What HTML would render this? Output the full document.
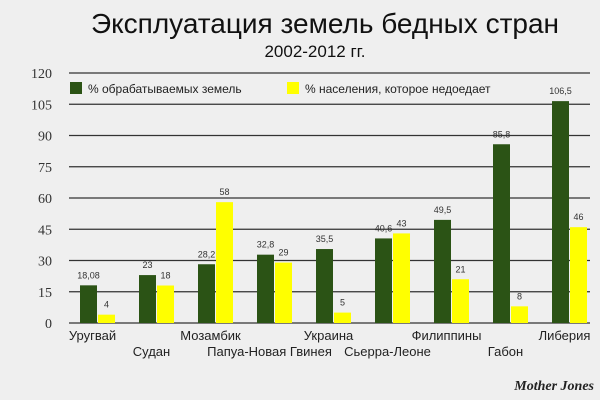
<!DOCTYPE html>
<html><head><meta charset="utf-8"><style>
body{margin:0;background:#efefef;}
svg{display:block;font-family:"Liberation Sans",sans-serif;}
</style></head><body>
<svg width="600" height="400" viewBox="0 0 600 400">
<rect width="600" height="400" fill="#efefef"/>
<text x="325" y="33" font-size="28" text-anchor="middle" fill="#111">Эксплуатация земель бедных стран</text>
<text x="315" y="57" font-size="17" text-anchor="middle" fill="#111">2002-2012 гг.</text>
<g id="grid"></g>
<g id="bars"></g>
<g id="labels"></g>
<g>
<rect x="70" y="82" width="12" height="12" fill="#2b5315"/>
<text x="88" y="93" font-size="12" fill="#222">% обрабатываемых земель</text>
<rect x="287" y="82" width="12" height="12" fill="#ffff00"/>
<text x="305" y="93" font-size="12" fill="#222">% населения, которое недоедает</text>
</g>
<text x="594" y="390" font-size="14" font-weight="bold" font-style="italic" text-anchor="end" font-family="Liberation Serif,serif" fill="#222">Mother Jones</text>
</svg>
<script>
const categories=["Уругвай","Судан","Мозамбик","Папуа-Новая Гвинея","Украина","Сьерра-Леоне","Филиппины","Габон","Либерия"];
const landValues=[18.08,23,28.2,32.8,35.5,40.6,49.5,85.8,106.5];
const hungerValues=[4,18,58,29,5,43,21,8,46];
const landLabels=["18,08","23","28,2","32,8","35,5","40,6","49,5","85,8","106,5"];
const hungerLabels=["4","18","58","29","5","43","21","8","46"];
const yTicks=[0,15,30,45,60,75,90,105,120];
const NS="http://www.w3.org/2000/svg";
const x0=69,x1=590,slot=59,bw=17,yBase=323,yTop=73,yMax=120;
const y=v=>yBase-(v/yMax)*(yBase-yTop);
const xs=i=>x0+i*slot;
function mk(tag,attrs,parent){const e=document.createElementNS(NS,tag);for(const k in attrs)e.setAttribute(k,attrs[k]);parent.appendChild(e);return e;}
const grid=document.getElementById('grid'),bars=document.getElementById('bars'),labels=document.getElementById('labels');
yTicks.forEach(t=>{
 const l=mk('line',{x1:x0,x2:x1,y1:y(t),y2:y(t),stroke:'#333','stroke-width':1.2},grid);
 
 
 const tx=mk('text',{x:52,y:y(t)+5,'font-size':14,'text-anchor':'end','font-family':'Liberation Serif,serif',fill:'#333'},grid);
 tx.textContent=t;
 
 
});
categories.forEach((c,i)=>{
 const gx=xs(i)+11;
 const g=mk('rect',{x:gx,y:y(landValues[i]),width:bw,height:yBase-y(landValues[i]),fill:'#2b5315'},bars);
 
 
 const h=mk('rect',{x:gx+bw+1,y:y(hungerValues[i]),width:bw,height:yBase-y(hungerValues[i]),fill:'#ffff00'},bars);
 
 
 const lt=mk('text',{x:gx+bw/2,y:y(landValues[i])-7,'font-size':9,'text-anchor':'middle',fill:'#333'},labels);
 lt.textContent=landLabels[i];
 
 
 const ht=mk('text',{x:gx+bw*1.5+1,y:y(hungerValues[i])-7,'font-size':9,'text-anchor':'middle',fill:'#333'},labels);
 ht.textContent=hungerLabels[i];
 
 
 const ct=mk('text',{x:xs(i)+slot/2-6,y:i%2?356:340,'font-size':13,'text-anchor':'middle',fill:'#222'},labels);
 ct.textContent=c;
 
 
});
</script>
</body></html>
